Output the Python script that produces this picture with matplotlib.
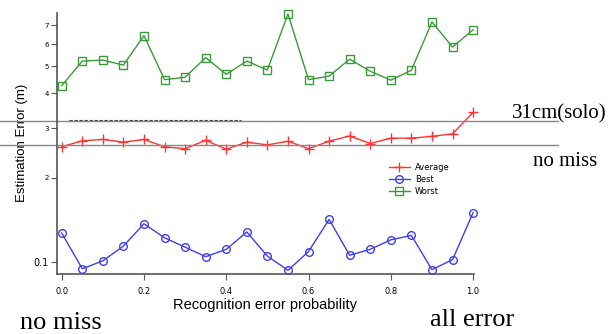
import numpy as np
import matplotlib
matplotlib.use('Agg')
import matplotlib.pyplot as plt

# data (log-scaled y)
prob = [0.0, 0.05, 0.1, 0.15, 0.2, 0.25, 0.3, 0.35, 0.4, 0.45, 0.5,
        0.55, 0.6, 0.65, 0.7, 0.75, 0.8, 0.85, 0.9, 0.95, 1.0]
average = [2.58, 2.71, 2.74, 2.68, 2.74, 2.58, 2.54, 2.72, 2.53, 2.68, 2.62,
           2.70, 2.54, 2.70, 2.82, 2.65, 2.77, 2.77, 2.81, 2.87, 3.42]
best = [1.27, 0.946, 1.01, 1.14, 1.37, 1.22, 1.13, 1.045, 1.11, 1.28, 1.05,
        0.934, 1.09, 1.42, 1.057, 1.11, 1.20, 1.245, 0.939, 1.02, 1.50]
worst = [4.26, 5.22, 5.26, 5.05, 6.43, 4.48, 4.57, 5.37, 4.68, 5.22, 4.85,
         7.69, 4.48, 4.61, 5.30, 4.80, 4.46, 4.84, 7.20, 5.86, 6.75]

yticks = [1, 2, 3, 4, 5, 6, 7]
ytick_labels = ['0.1', '2', '3', '4', '5', '6', '7']
xticks = [0.0, 0.2, 0.4, 0.6, 0.8, 1.0]

solo_level = 3.176      # 31cm(solo)
nomiss_level = 2.617    # no miss
dotted_level = 3.214

W, H = 616, 334
fig = plt.figure(figsize=(W / 100, H / 100), dpi=100)
ax = fig.add_axes([57 / W, 1 - 273.5 / H, 416.5 / W, 260.5 / H])

ax.plot(prob, average, color='#ff3333', lw=1, marker='+', ms=7, mew=1,
        label='Average', clip_on=False)
ax.plot(prob, best, color='#3f3fe8', lw=1, marker='o', ms=5.5, mfc='none',
        mew=1, label='Best', clip_on=False)
ax.plot(prob, worst, color='#3a9a3a', lw=1, marker='s', ms=6, mfc='none',
        mew=1, label='Worst', clip_on=False)

ax.set_yscale('log')
ax.set_xlim(-0.0114, 1.001)
ax.set_ylim(0.910, 7.75)
ax.set_yticks(yticks)
ax.set_yticklabels(ytick_labels)
ax.yaxis.set_minor_locator(matplotlib.ticker.NullLocator())
ax.set_xticks(xticks)
ax.set_xticklabels(['%.1f' % t for t in xticks])

for lab in ax.get_yticklabels():
    lab.set_fontsize(5)
ax.get_yticklabels()[0].set_fontsize(7)
ax.tick_params(axis='x', labelsize=6, length=4, width=0.8, color='#555555', pad=6)
ax.tick_params(axis='y', length=4, width=0.8, color='#555555', pad=2)

for s in ['top', 'right']:
    ax.spines[s].set_visible(False)
for s in ['left', 'bottom']:
    ax.spines[s].set_color('#555555')
    ax.spines[s].set_linewidth(1.2)

ax.set_xlabel('Recognition error probability', family='Liberation Sans',
              fontsize=10.5, labelpad=1)
ax.set_ylabel('Estimation Error (m)', family='Liberation Sans', fontsize=9.5)
ax.yaxis.set_label_coords((28 - 57) / 416.5, 0.5)

# annotation lines across the figure
x0 = (0 - 57) / 416.5
x1 = (558 - 57) / 416.5
ax.axhline(solo_level, x0, x1, color='#888888', lw=1, clip_on=False)
ax.axhline(nomiss_level, x0, x1, color='#888888', lw=1, clip_on=False)
ax.plot([0.018, 0.435], [dotted_level, dotted_level], color='#444444', lw=0.8,
        ls=(0, (3, 1.5)))

leg = ax.legend(loc='upper left', bbox_to_anchor=(389 / W, 1 - 163 / H),
                bbox_transform=fig.transFigure, frameon=False, fontsize=6,
                handlelength=2.5, handletextpad=0.6, labelspacing=0.35,
                borderpad=0, borderaxespad=0)

serif = 'Liberation Serif'
fig.text(512 / W, 1 - 118 / H, '31cm(solo)', family=serif, fontsize=15)
fig.text(533 / W, 1 - 166 / H, 'no miss', family=serif, fontsize=15)
fig.text(20 / W, 1 - 329 / H, 'no miss', family=serif, fontsize=19)
fig.text(430 / W, 1 - 326 / H, 'all error', family=serif, fontsize=19)

fig.savefig('out.png', dpi=100)
